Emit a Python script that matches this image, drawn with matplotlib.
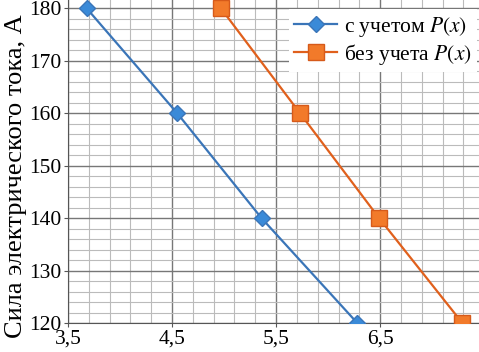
import matplotlib.pyplot as plt
from matplotlib.ticker import MultipleLocator, FuncFormatter

# data
x_with = [3.68, 4.55, 5.36, 6.28]
y_with = [180, 160, 140, 120]
x_without = [4.97, 5.73, 6.49, 7.29]
y_without = [180, 160, 140, 120]

plt.rcParams['font.family'] = ['Liberation Serif', 'DejaVu Serif']
plt.rcParams['mathtext.fontset'] = 'stix'

fig = plt.figure(figsize=(4.79, 3.52), dpi=100)
ax = fig.add_axes([68 / 479, 1 - 323 / 352, 1 - 68 / 479, 323 / 352 - 0.0])

ax.plot(x_with, y_with, color='#3a75b8', lw=1.6, marker='D', ms=8,
        mfc='#3a8ad8', mec='#3a75b8', label='с учетом $P(x)$', zorder=3)
ax.plot(x_without, y_without, color='#e0601c', lw=1.6, marker='s', ms=11,
        mfc='#f27a2a', mec='#d65a1a', label='без учета $P(x)$', zorder=3)

ax.set_xlim(3.5, 7.45)
ax.set_ylim(120, 181.6)
ax.xaxis.set_major_locator(MultipleLocator(1, offset=0.5))
ax.xaxis.set_minor_locator(MultipleLocator(0.2, offset=0.1))
ax.yaxis.set_major_locator(MultipleLocator(10))
ax.yaxis.set_minor_locator(MultipleLocator(2))
ax.xaxis.set_major_formatter(FuncFormatter(lambda v, p: f'{v:.1f}'.replace('.', ',')))

ax.grid(which='major', color='#777777', lw=1.0)
ax.grid(which='minor', color='#bbbbbb', lw=0.8)
ax.set_axisbelow(True)
for s in ['top', 'right']:
    ax.spines[s].set_visible(False)
ax.spines['left'].set_color('#555555')
ax.spines['bottom'].set_color('#555555')
ax.tick_params(which='major', length=3, labelsize=15.5, color='#555555', pad=2)
ax.tick_params(which='minor', length=0)

ax.set_ylabel('Сила электрического тока, А', fontsize=19)
ax.yaxis.set_label_coords(-0.1, 0.455)

leg = ax.legend(loc='upper right', bbox_to_anchor=(1.0, 0.978), fontsize=15.5,
                frameon=True, fancybox=False, edgecolor='none', framealpha=1,
                borderpad=0.25, handlelength=2.0, handletextpad=0.3,
                labelspacing=0.15, borderaxespad=0.1)

fig.savefig('out.png', dpi=100)
